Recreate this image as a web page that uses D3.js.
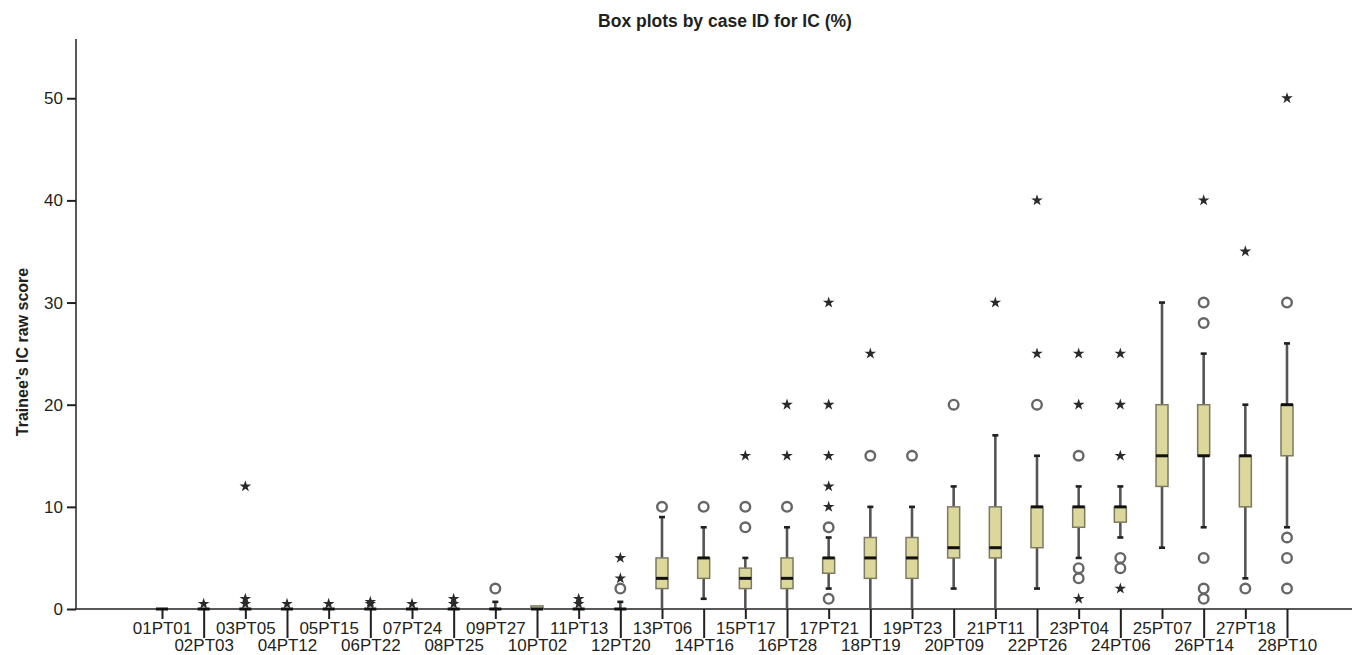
<!DOCTYPE html>
<html>
<head>
<meta charset="utf-8">
<script src="https://cdn.jsdelivr.net/npm/d3@7"></script>
<style>
    body { margin: 0; background: #fff; }
    svg text { font-family: "Liberation Sans", Arial, sans-serif; fill: #231f20; }
</style>
</head>
<body>
<svg id="chart" width="1364" height="655"></svg>
<script>
var cases = ['01PT01', '02PT03', '03PT05', '04PT12', '05PT15', '06PT22', '07PT24',
    '08PT25', '09PT27', '10PT02', '11PT13', '12PT20', '13PT06', '14PT16', '15PT17',
    '16PT28', '17PT21', '18PT19', '19PT23', '20PT09', '21PT11', '22PT26', '23PT04',
    '24PT06', '25PT07', '26PT14', '27PT18', '28PT10'];

var q1 =       [0, 0, 0, 0, 0, 0, 0, 0, 0, 0,   0, 0, 2, 3, 2, 2, 3.5, 3, 3, 5, 5, 6, 8, 8.5, 12, 15, 10, 15];
var median =   [0, 0, 0, 0, 0, 0, 0, 0, 0, 0,   0, 0, 3, 5, 3, 3, 5, 5, 5, 6, 6, 10, 10, 10, 15, 15, 15, 20];
var q3 =       [0, 0, 0, 0, 0, 0, 0, 0, 0, 0.3, 0, 0, 5, 5, 4, 5, 5, 7, 7, 10, 10, 10, 10, 10, 20, 20, 15, 20];
var whiskLo =  [0, 0, 0, 0, 0, 0, 0, 0, 0, 0,   0, 0, 0, 1, 0, 0, 2, 0, 0, 2, 0, 2, 5, 7, 6, 8, 3, 8];
var whiskHi =  [0, 0, 0, 0, 0, 0, 0, 0, 0.7, 0.3, 0, 0.7, 9, 8, 5, 8, 7, 10, 10, 12, 17, 15, 12, 12, 30, 25, 20, 26];

// outliers (circles) and extreme values (stars), one list per case
var outliers = [[], [], [], [], [], [], [], [], [2], [], [], [2], [10], [10], [8, 10], [10],
    [1, 8], [15], [15], [20], [], [20], [3, 4, 15], [4, 5], [], [1, 2, 5, 28, 30], [2], [2, 5, 7, 30]];
var extremes = [[], [0.5], [0.5, 1, 12], [0.5], [0.5], [0.5, 0.7], [0.5], [0.5, 1], [], [], [0.5, 1],
    [3, 5], [], [], [15], [15, 20], [10, 12, 15, 20, 30], [25], [], [], [30], [25, 40],
    [1, 20, 25], [2, 15, 20, 25], [], [40], [35], [50]];

var yTicks = [0, 10, 20, 30, 40, 50];

var boxWidth = 12,
    capWidth = 6;

var svg = d3.select('#chart');

var x = d3.scalePoint().domain(cases).range([162, 1287]);
var y = d3.scaleLinear().domain([0, 55.8]).range([609, 39]);

// title
svg.append('text')
    .attr('x', 725)
    .attr('y', 27)
    .attr('text-anchor', 'middle')
    .style('font-size', '17.5px')
    .style('font-weight', 'bold')
    .text('Box plots by case ID for IC (%)');

// y label
svg.append('text')
    .attr('transform', 'translate(28,352) rotate(-90)')
    .attr('text-anchor', 'middle')
    .style('font-size', '16px')
    .style('font-weight', 'bold')
    .text('Trainee\u2019s IC raw score');

// y axis
var yAxis = svg.append('g')
    .attr('transform', 'translate(76,0)')
    .call(d3.axisLeft(y).tickValues(yTicks).tickSize(9).tickPadding(4));
yAxis.select('.domain').remove();
yAxis.selectAll('.tick line').attr('stroke', '#231f20').attr('stroke-width', 2);
yAxis.selectAll('.tick text').style('font-size', '17px');
svg.append('line')
    .attr('x1', 76).attr('x2', 76)
    .attr('y1', y.range()[1]).attr('y2', y(0))
    .attr('stroke', '#231f20').attr('stroke-width', 1.5);

// x axis, labels on two alternating rows
var xAxis = svg.append('g')
    .attr('transform', 'translate(0,' + y(0) + ')')
    .call(d3.axisBottom(x).tickSize(10));
xAxis.select('.domain').remove();
xAxis.selectAll('.tick line')
    .attr('y2', function(d, i) { return i % 2 ? 29 : 10; })
    .attr('stroke', '#231f20')
    .attr('stroke-width', 2);
xAxis.selectAll('.tick text')
    .attr('y', function(d, i) { return i % 2 ? 42 : 25; })
    .attr('dy', 0)
    .style('font-size', '17px');
svg.append('line')
    .attr('x1', 76).attr('x2', 1352)
    .attr('y1', y(0)).attr('y2', y(0))
    .attr('stroke', '#231f20').attr('stroke-width', 1.5);

var boxes = cases.map(function(c, i) {
    return {
        id: c, q1: q1[i], median: median[i], q3: q3[i],
        lo: whiskLo[i], hi: whiskHi[i],
        outliers: outliers[i], extremes: extremes[i]
    };
});

var g = svg.append('g').selectAll('g')
    .data(boxes)
    .enter()
    .append('g')
        .attr('transform', function(d) { return 'translate(' + x(d.id) + ',0)'; });

// whiskers
g.filter(function(d) { return d.hi > d.q3; })
    .append('line')
        .attr('y1', function(d) { return y(d.q3); })
        .attr('y2', function(d) { return y(d.hi); })
        .attr('stroke', '#555').attr('stroke-width', 2.6);
g.filter(function(d) { return d.lo < d.q1; })
    .append('line')
        .attr('y1', function(d) { return y(d.q1); })
        .attr('y2', function(d) { return y(d.lo); })
        .attr('stroke', '#555').attr('stroke-width', 2.6);
g.filter(function(d) { return d.hi > d.q3; })
    .append('line')
        .attr('x1', -capWidth / 2).attr('x2', capWidth / 2)
        .attr('y1', function(d) { return y(d.hi); })
        .attr('y2', function(d) { return y(d.hi); })
        .attr('stroke', '#231f20').attr('stroke-width', 2.6);
g.filter(function(d) { return d.lo < d.q1 && d.lo > 0; })
    .append('line')
        .attr('x1', -capWidth / 2).attr('x2', capWidth / 2)
        .attr('y1', function(d) { return y(d.lo); })
        .attr('y2', function(d) { return y(d.lo); })
        .attr('stroke', '#231f20').attr('stroke-width', 2.6);

// boxes
g.filter(function(d) { return d.q3 > d.q1; })
    .append('rect')
        .attr('x', -boxWidth / 2)
        .attr('width', boxWidth)
        .attr('y', function(d) { return y(d.q3); })
        .attr('height', function(d) { return y(d.q1) - y(d.q3); })
        .attr('fill', '#dcd89c')
        .attr('stroke', '#7c7a62')
        .attr('stroke-width', 1.5);

// medians
g.append('line')
    .attr('x1', -boxWidth / 2).attr('x2', boxWidth / 2)
    .attr('y1', function(d) { return y(d.median); })
    .attr('y2', function(d) { return y(d.median); })
    .attr('stroke', '#111')
    .attr('stroke-width', 3);

// outliers
g.selectAll('circle')
    .data(function(d) { return d.outliers; })
    .enter()
    .append('circle')
        .attr('cy', function(v) { return y(v); })
        .attr('r', 4.8)
        .attr('fill', '#fff')
        .attr('stroke', '#666')
        .attr('stroke-width', 2.4);

// extreme values
var star = d3.symbol().type(d3.symbolStar).size(42);
g.selectAll('path.star')
    .data(function(d) { return d.extremes; })
    .enter()
    .append('path')
        .attr('class', 'star')
        .attr('d', star)
        .attr('transform', function(v) { return 'translate(0,' + y(v) + ')'; })
        .attr('fill', '#2a2a2a');
</script>
</body>
</html>
